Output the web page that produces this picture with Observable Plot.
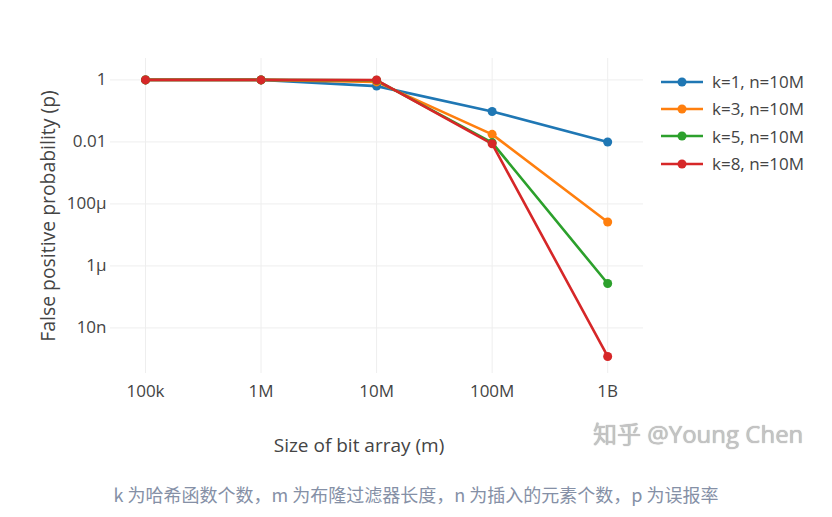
<!DOCTYPE html>
<html><head><meta charset="utf-8">
<script src="https://cdn.jsdelivr.net/npm/d3@7"></script>
<script src="https://cdn.jsdelivr.net/npm/@observablehq/plot@0.6"></script>
<style>
body{margin:0;background:#fff;}
#wrap{position:relative;width:832px;height:517px;font-family:"Open Sans",sans-serif;overflow:hidden;}
#legend{position:absolute;left:660px;top:68px;}
.row{display:flex;align-items:center;height:27.3px;font-size:17px;color:#444;}
.row svg{margin-right:8px;}
#wm{position:absolute;left:593px;top:415px;font-size:24px;color:#c4c4c4;font-family:"Open Sans","Noto Sans CJK SC",sans-serif;text-shadow:0 0 1px #999;white-space:nowrap;}
#cap{position:absolute;left:0;top:481px;width:832px;text-align:center;font-size:18px;color:#8590a6;font-family:"Noto Sans CJK SC",sans-serif;}
</style></head><body><div id="wrap"></div>
<script>
const sizes = [1e5, 1e6, 1e7, 1e8, 1e9];
const xTickLabels = ["100k", "1M", "10M", "100M", "1B"];
const yTicks = [1, 1e-2, 1e-4, 1e-6, 1e-8];
const yTickLabels = ["1", "0.01", "100μ", "1μ", "10n"];
const seriesNames = ["k=1, n=10M", "k=3, n=10M", "k=5, n=10M", "k=8, n=10M"];
const seriesColors = ["#1f77b4", "#ff7f0e", "#2ca02c", "#d62728"];
const k1 = [1, 1, 0.63, 0.096, 0.0099];
const k3 = [1, 1, 0.86, 0.0175, 2.6e-5];
const k5 = [1, 1, 0.97, 0.0095, 2.7e-7];
const k8 = [1, 1, 0.99, 0.0087, 1.2e-9];
const xTitle = "Size of bit array (m)";
const yTitle = "False positive probability (p)";
const caption = "k 为哈希函数个数，m 为布隆过滤器长度，n 为插入的元素个数，p 为误报率";
const watermark = "知乎 @Young Chen";

const allValues = [k1, k3, k5, k8];
const data = [];
seriesNames.forEach((s, i) => sizes.forEach((m, j) => data.push({series: s, m, p: allValues[i][j]})));
const xFmt = new Map(sizes.map((s, i) => [s, xTickLabels[i]]));
const yFmt = new Map(yTicks.map((s, i) => [s, yTickLabels[i]]));

const chart = Plot.plot({
  width: 832, height: 470,
  marginLeft: 110, marginRight: 189, marginTop: 58, marginBottom: 97,
  style: {fontFamily: "Open Sans", fontSize: "17px", color: "#444", background: "transparent"},
  x: {type: "log", domain: [10 ** 4.697, 10 ** 9.31]},
  y: {type: "log", domain: [10 ** -9.47, 10 ** 0.69]},
  color: {domain: seriesNames, range: seriesColors},
  marks: [
    Plot.gridX(sizes, {stroke: "#eeeeee", strokeOpacity: 1, strokeWidth: 1}),
    Plot.gridY(yTicks, {stroke: "#eeeeee", strokeOpacity: 1, strokeWidth: 1}),
    Plot.axisX({ticks: sizes, tickFormat: d => xFmt.get(d), tickSize: 0, tickPadding: 11, label: null, fill: "#444", fontSize: 17}),
    Plot.axisY({ticks: yTicks, tickFormat: d => yFmt.get(d), tickSize: 0, tickPadding: 4, label: null, fill: "#444", fontSize: 17}),
    Plot.line(data, {x: "m", y: "p", stroke: "series", z: "series", strokeWidth: 2.6}),
    Plot.dot(data, {x: "m", y: "p", fill: "series", r: 4.5}),
    Plot.text([yTitle], {frameAnchor: "left", dx: -62, rotate: -90, textAnchor: "middle", lineAnchor: "middle", fontSize: 19.4, fill: "#444"}),
    Plot.text([xTitle], {frameAnchor: "bottom", dx: -18, dy: 72, textAnchor: "middle", lineAnchor: "middle", fontSize: 19, fill: "#444"})
  ]
});
const wrap = document.getElementById("wrap");
chart.style.position = "absolute";
chart.style.left = "0px";
chart.style.top = "0px";
wrap.appendChild(chart);

const legend = document.createElement("div");
legend.id = "legend";
seriesNames.forEach((s, i) => {
  const row = document.createElement("div");
  row.className = "row";
  row.innerHTML = `<svg width="44" height="12"><line x1="1" y1="6" x2="43" y2="6" stroke="${seriesColors[i]}" stroke-width="2.6"/><circle cx="22" cy="6" r="4.5" fill="${seriesColors[i]}"/></svg><span>${s}</span>`;
  legend.appendChild(row);
});
wrap.appendChild(legend);

const wm = document.createElement("div");
wm.id = "wm"; wm.textContent = watermark;
wrap.appendChild(wm);
const cap = document.createElement("div");
cap.id = "cap"; cap.textContent = caption;
wrap.appendChild(cap);
</script></body></html>
